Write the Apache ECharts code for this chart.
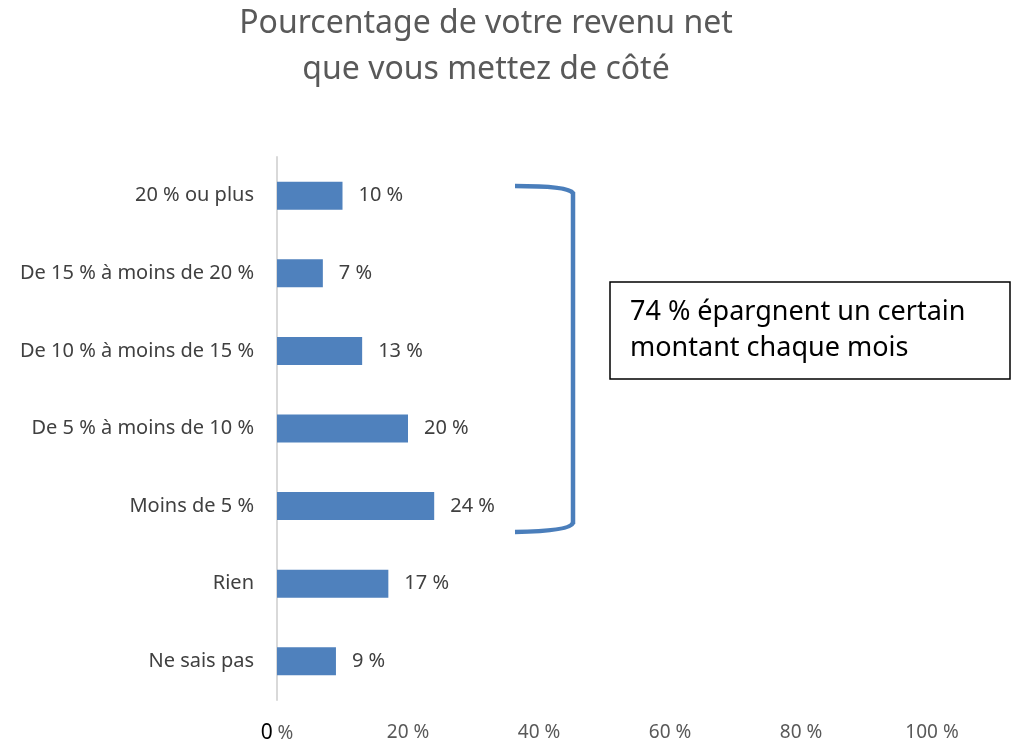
<!DOCTYPE html>
<html>
<head>
<meta charset="utf-8">
<script src="https://cdn.jsdelivr.net/npm/echarts@6/dist/echarts.min.js"></script>
<style>
  html, body { margin: 0; padding: 0; background: #fff; }
  #main { width: 1012px; height: 744px; }
</style>
</head>
<body>
<div id="main"></div>
<script>
// catégories, du haut vers le bas
const categories = [
  '20 % ou plus',
  'De 15 % à moins de 20 %',
  'De 10 % à moins de 15 %',
  'De 5 % à moins de 10 %',
  'Moins de 5 %',
  'Rien',
  'Ne sais pas'
];
const values = [10, 7, 13, 20, 24, 17, 9];
const xTicks = [0, 20, 40, 60, 80, 100];

const chart = echarts.init(document.getElementById('main'));
const font = 'Noto Sans';
const bracket = { stroke: '#4a7ebb', lineWidth: 4.5, fill: null };

const option = {
  backgroundColor: '#fff',
  textStyle: { fontFamily: font },
  title: {
    text: 'Pourcentage de votre revenu net\nque vous mettez de côté',
    left: 481,
    textAlign: 'center',
    top: -4,
    textStyle: { fontSize: 32, fontWeight: 'normal', color: '#595959', lineHeight: 46, fontFamily: font }
  },
  grid: { left: 277, right: 80, top: 157, bottom: 37, containLabel: false },
  xAxis: {
    type: 'value',
    min: 0,
    max: 100,
    interval: 20,
    axisLine: { show: false },
    axisTick: { show: false },
    splitLine: { show: false },
    axisLabel: {
      margin: 23,
      fontSize: 19,
      color: '#595959',
      formatter: v => xTicks.includes(v) ? (v === 0 ? '{z|0} %' : v + ' %') : '',
      rich: { z: { color: '#000', fontSize: 21 } }
    }
  },
  yAxis: {
    type: 'category',
    inverse: true,
    data: categories,
    axisLine: { show: true, lineStyle: { color: '#d9d9d9', width: 2 } },
    axisTick: { show: false },
    axisLabel: { margin: 23, fontSize: 20, color: '#404040' }
  },
  series: [{
    type: 'bar',
    data: values,
    barWidth: 28,
    itemStyle: { color: '#4f81bd' },
    label: {
      show: true,
      position: 'right',
      distance: 16,
      fontSize: 20,
      color: '#404040',
      formatter: p => p.value + ' %'
    }
  }],
  graphic: [
    {
      type: 'bezierCurve',
      shape: { x1: 515, y1: 186, x2: 573, y2: 193, cpx1: 568, cpy1: 186 },
      style: bracket
    },
    {
      type: 'line',
      shape: { x1: 573, y1: 192, x2: 573, y2: 524 },
      style: bracket
    },
    {
      type: 'bezierCurve',
      shape: { x1: 573, y1: 523, x2: 515, y2: 532, cpx1: 570, cpy1: 531 },
      style: bracket
    },
    {
      type: 'rect',
      shape: { x: 610, y: 282, width: 400, height: 97 },
      style: { fill: '#fff', stroke: '#000', lineWidth: 1.5 }
    },
    {
      type: 'text',
      left: 630,
      top: 294,
      style: {
        text: '74 % épargnent un certain\nmontant chaque mois',
        font: '27px "Noto Sans"',
        fill: '#000',
        lineHeight: 36
      }
    }
  ]
};
chart.setOption(option);
window.onresize = () => chart.resize();
</script>
</body>
</html>
